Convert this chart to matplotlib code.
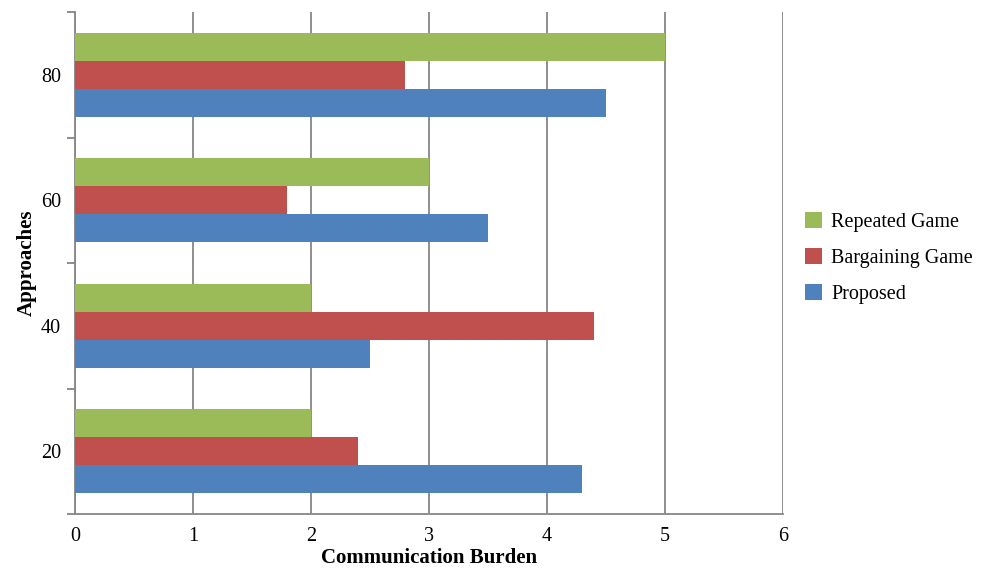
import matplotlib.pyplot as plt
import numpy as np

plt.rcParams['font.family'] = ['Liberation Serif', 'DejaVu Serif']

categories = ['20', '40', '60', '80']
proposed = [4.3, 2.5, 3.5, 4.5]
bargaining = [2.4, 4.4, 1.8, 2.8]
repeated = [2.0, 2.0, 3.0, 5.0]

c_blue = "#4F81BD"
c_red = "#C0504D"
c_green = "#9BBB59"
grid_col = "#868686"

fig = plt.figure(figsize=(9.9, 5.71), dpi=100)
ax = fig.add_axes([0.0758, 0.0998, 0.7152, 0.879])

y = np.arange(len(categories))
h = 0.223
ax.barh(y - h, proposed, height=h, color=c_blue, label='Proposed', zorder=3)
ax.barh(y, bargaining, height=h, color=c_red, label='Bargaining Game', zorder=3)
ax.barh(y + h, repeated, height=h, color=c_green, label='Repeated Game', zorder=3)

ax.set_xlim(0, 6)
ax.set_ylim(-0.5, 3.5)
ax.set_xticks(range(7))
ax.set_yticks(y)
ax.set_yticklabels(categories)
ax.set_yticks(np.arange(-0.5, 3.6, 1), minor=True)
ax.tick_params(axis='y', which='major', length=0, labelsize=14.5, pad=10)
ax.tick_params(axis='y', which='minor', length=6, width=1.3, color=grid_col, direction='out')
ax.tick_params(axis='x', length=0, labelsize=14.5, pad=9)

ax.grid(axis='x', color=grid_col, linewidth=1.3, zorder=0)
for s in ['top', 'right']:
    ax.spines[s].set_visible(False)
for s in ['left', 'bottom']:
    ax.spines[s].set_color(grid_col)
    ax.spines[s].set_linewidth(1.3)

ax.set_xlabel('Communication Burden', fontsize=15, fontweight='bold', labelpad=2)
ax.set_ylabel('Approaches', fontsize=15, fontweight='bold', labelpad=3)

handles, labels = ax.get_legend_handles_labels()
fig.legend(handles[::-1], labels[::-1], loc='center left', bbox_to_anchor=(805 / 990, 1 - 258 / 571),
           frameon=False, fontsize=14.5, handlelength=0.85, handleheight=0.85,
           handletextpad=0.45, labelspacing=0.78, borderpad=0, borderaxespad=0)

plt.savefig("out.png", dpi=100)
